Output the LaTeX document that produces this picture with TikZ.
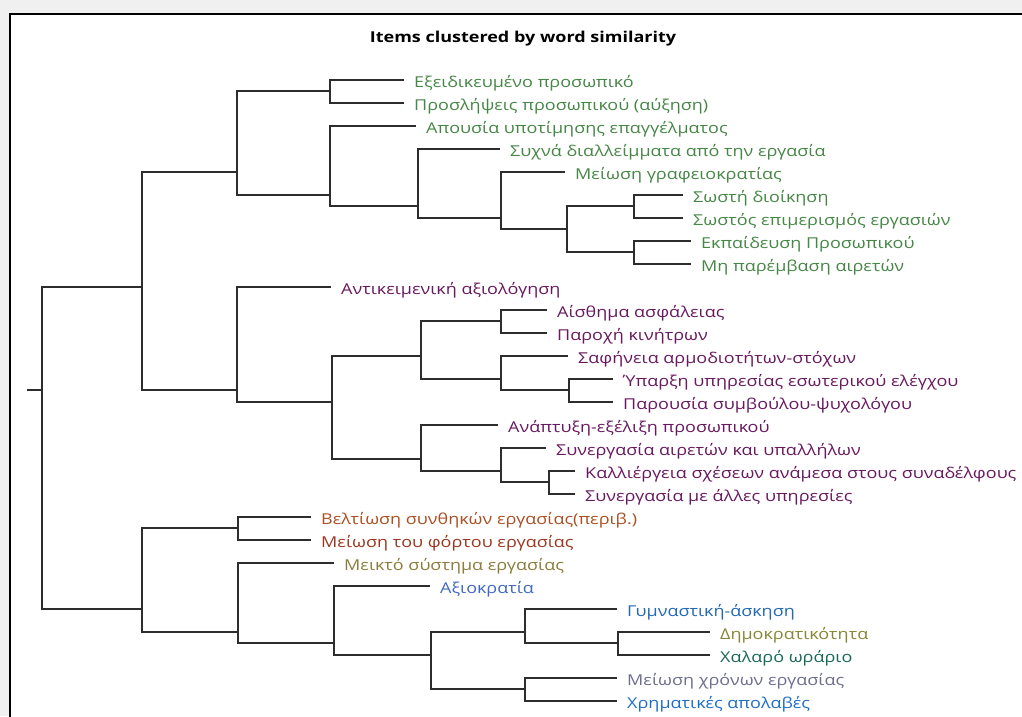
\documentclass[tikz,border=0pt]{standalone}
\usepackage{fontspec}
\setmainfont{Open Sans}[FakeStretch=1.2]
\definecolor{linegray}{RGB}{45,45,45}
\definecolor{shadowgray}{RGB}{240,240,240}
\definecolor{cgreen}{RGB}{70,135,70}
\definecolor{cpurple}{RGB}{105,25,95}
\definecolor{cbrownA}{RGB}{170,80,35}
\definecolor{cbrownB}{RGB}{155,55,30}
\definecolor{coliveA}{RGB}{140,125,60}
\definecolor{coliveB}{RGB}{135,135,55}
\definecolor{cblueA}{RGB}{65,105,195}
\definecolor{cblueB}{RGB}{35,105,180}
\definecolor{cblueC}{RGB}{30,110,200}
\definecolor{cteal}{RGB}{25,105,90}
\definecolor{cgrayb}{RGB}{110,110,145}
\newcommand{\mkleaf}[4]{%
  \pgfmathsetmacro{\leafy}{80+(#1-1)*23}
  \coordinate (e#1) at (#2,\leafy);
  \node[leaf,text=#3] (t#1) at ([xshift=10pt,yshift=-7pt]e#1) {#4};
}
\begin{document}
\begin{tikzpicture}[x=1pt,y=-1pt,
  br/.style={draw=linegray, line width=1.4pt},
  leaf/.style={anchor=base west, inner sep=0pt, font=\fontsize{15}{17}\selectfont},
  frame/.style={draw=black, fill=white, line width=1.3pt}]
\useasboundingbox (0,0) rectangle (1022,716);
\fill[shadowgray] (0,0) rectangle (1022,716);
\draw[frame] (10,14) rectangle (1040,740);
\node[font=\bfseries\fontsize{15}{17}\selectfont] (title) at (523,39) {Items clustered by word similarity};
% internal nodes
\coordinate (R0) at (27,390);
\coordinate (R) at (42,390);
\coordinate (A) at (142,287);
\coordinate (B) at (142,609);
\coordinate (A1) at (237,172);
\coordinate (A2) at (237,390);
\coordinate (N12) at (330,91);
\coordinate (N39) at (330,195);
\coordinate (N49) at (418,206);
\coordinate (N59) at (501,218);
\coordinate (N69) at (567,229);
\coordinate (N67) at (634,206);
\coordinate (N89) at (634,252);
\coordinate (A2b) at (332,402);
\coordinate (A2b1) at (421,356);
\coordinate (N1112) at (501,321);
\coordinate (N1315) at (501,379);
\coordinate (N1415) at (569,390);
\coordinate (A2b2) at (421,459);
\coordinate (N1719) at (501,471);
\coordinate (N1819) at (549,482);
\coordinate (B1) at (238,528);
\coordinate (B2) at (238,632);
\coordinate (B2b) at (334,643);
\coordinate (B2c) at (431,655);
\coordinate (N2426) at (525,632);
\coordinate (N2526) at (618,643);
\coordinate (N2728) at (525,689);
% leaves
\mkleaf{1}{404}{cgreen}{Εξειδικευμένο προσωπικό}
\mkleaf{2}{404}{cgreen}{Προσλήψεις προσωπικού (αύξηση)}
\mkleaf{3}{416}{cgreen}{Απουσία υποτίμησης επαγγέλματος}
\mkleaf{4}{500}{cgreen}{Συχνά διαλλείμματα από την εργασία}
\mkleaf{5}{565}{cgreen}{Μείωση γραφειοκρατίας}
\mkleaf{6}{683}{cgreen}{Σωστή διοίκηση}
\mkleaf{7}{683}{cgreen}{Σωστός επιμερισμός εργασιών}
\mkleaf{8}{691}{cgreen}{Εκπαίδευση Προσωπικού}
\mkleaf{9}{691}{cgreen}{Μη παρέμβαση αιρετών}
\mkleaf{10}{331}{cpurple}{Αντικειμενική αξιολόγηση}
\mkleaf{11}{547}{cpurple}{Αίσθημα ασφάλειας}
\mkleaf{12}{547}{cpurple}{Παροχή κινήτρων}
\mkleaf{13}{568}{cpurple}{Σαφήνεια αρμοδιοτήτων-στόχων}
\mkleaf{14}{613}{cpurple}{Ύπαρξη υπηρεσίας εσωτερικού ελέγχου}
\mkleaf{15}{613}{cpurple}{Παρουσία συμβούλου-ψυχολόγου}
\mkleaf{16}{498}{cpurple}{Ανάπτυξη-εξέλιξη προσωπικού}
\mkleaf{17}{546}{cpurple}{Συνεργασία αιρετών και υπαλλήλων}
\mkleaf{18}{575}{cpurple}{Καλλιέργεια σχέσεων ανάμεσα στους συναδέλφους}
\mkleaf{19}{575}{cpurple}{Συνεργασία με άλλες υπηρεσίες}
\mkleaf{20}{311}{cbrownA}{Βελτίωση συνθηκών εργασίας(περιβ.)}
\mkleaf{21}{311}{cbrownB}{Μείωση του φόρτου εργασίας}
\mkleaf{22}{334}{coliveA}{Μεικτό σύστημα εργασίας}
\mkleaf{23}{430}{cblueA}{Αξιοκρατία}
\mkleaf{24}{617}{cblueB}{Γυμναστική-άσκηση}
\mkleaf{25}{710}{coliveB}{Δημοκρατικότητα}
\mkleaf{26}{710}{cteal}{Χαλαρό ωράριο}
\mkleaf{27}{617}{cgrayb}{Μείωση χρόνων εργασίας}
\mkleaf{28}{617}{cblueC}{Χρηματικές απολαβές}
% connectors
\draw[br] (R0) -- (R);
\draw[br] (R) |- (A);
\draw[br] (R) |- (B);
\draw[br] (A) |- (A1);
\draw[br] (A) |- (A2);
\draw[br] (B) |- (B1);
\draw[br] (B) |- (B2);
\draw[br] (A1) |- (N12);
\draw[br] (A1) |- (N39);
\draw[br] (N12) |- (e1);
\draw[br] (N12) |- (e2);
\draw[br] (N39) |- (e3);
\draw[br] (N39) |- (N49);
\draw[br] (N49) |- (e4);
\draw[br] (N49) |- (N59);
\draw[br] (N59) |- (e5);
\draw[br] (N59) |- (N69);
\draw[br] (N69) |- (N67);
\draw[br] (N69) |- (N89);
\draw[br] (N67) |- (e6);
\draw[br] (N67) |- (e7);
\draw[br] (N89) |- (e8);
\draw[br] (N89) |- (e9);
\draw[br] (A2) |- (e10);
\draw[br] (A2) |- (A2b);
\draw[br] (A2b) |- (A2b1);
\draw[br] (A2b) |- (A2b2);
\draw[br] (A2b1) |- (N1112);
\draw[br] (A2b1) |- (N1315);
\draw[br] (N1112) |- (e11);
\draw[br] (N1112) |- (e12);
\draw[br] (N1315) |- (e13);
\draw[br] (N1315) |- (N1415);
\draw[br] (N1415) |- (e14);
\draw[br] (N1415) |- (e15);
\draw[br] (A2b2) |- (e16);
\draw[br] (A2b2) |- (N1719);
\draw[br] (N1719) |- (e17);
\draw[br] (N1719) |- (N1819);
\draw[br] (N1819) |- (e18);
\draw[br] (N1819) |- (e19);
\draw[br] (B1) |- (e20);
\draw[br] (B1) |- (e21);
\draw[br] (B2) |- (e22);
\draw[br] (B2) |- (B2b);
\draw[br] (B2b) |- (e23);
\draw[br] (B2b) |- (B2c);
\draw[br] (B2c) |- (N2426);
\draw[br] (B2c) |- (N2728);
\draw[br] (N2426) |- (e24);
\draw[br] (N2426) |- (N2526);
\draw[br] (N2526) |- (e25);
\draw[br] (N2526) |- (e26);
\draw[br] (N2728) |- (e27);
\draw[br] (N2728) |- (e28);
\end{tikzpicture}
\end{document}
